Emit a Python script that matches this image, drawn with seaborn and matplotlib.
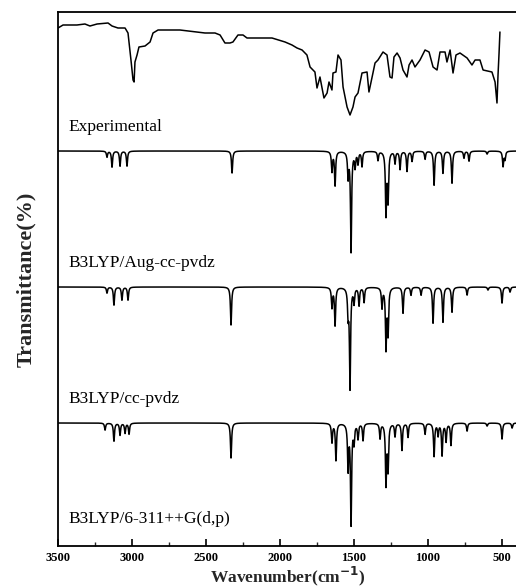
import matplotlib
matplotlib.use("Agg")
import matplotlib.pyplot as plt
import numpy as np
import pandas as pd
import seaborn as sns
from matplotlib.ticker import MultipleLocator

# experimental spectrum (wavenumber, transmittance %)
exp_wn = [3500, 3466, 3372, 3318, 3284, 3236, 3162, 3135, 3095, 3047, 3027,
          3007, 2993, 2986, 2980, 2966, 2953, 2912, 2878, 2858, 2824, 2676,
          2507, 2439, 2405, 2372, 2338, 2318, 2284, 2250, 2223, 2054, 1966,
          1919, 1885, 1851, 1818, 1797, 1764, 1750, 1730, 1716, 1703, 1682,
          1669, 1649, 1642, 1622, 1608, 1588, 1574, 1547, 1527, 1507, 1493,
          1473, 1446, 1412, 1399, 1372, 1358, 1338, 1304, 1277, 1257, 1243,
          1230, 1209, 1189, 1169, 1142, 1128, 1108, 1088, 1054, 1020, 993,
          966, 939, 919, 885, 872, 851, 831, 811, 784, 736, 703, 682, 649,
          628, 568, 547, 534, 527, 520, 514]
exp_t = [95, 98, 98, 99, 97, 99, 100, 97, 95, 95, 90,
         63, 43, 41, 61, 68, 76, 77, 81, 90, 93, 93,
         90, 90, 88, 80, 80, 81, 88, 88, 85, 85, 81,
         78, 75, 73, 68, 56, 51, 35, 46, 35, 25, 30,
         41, 33, 50, 51, 68, 63, 36, 16, 8, 16, 26,
         30, 50, 51, 31, 50, 60, 63, 71, 68, 46, 45,
         66, 70, 65, 53, 46, 58, 63, 56, 63, 73, 71,
         56, 53, 71, 71, 61, 73, 50, 68, 70, 65, 58, 63, 63,
         53, 51, 41, 20, 48, 70, 91]

# calculated spectra: peak position (cm-1) and depth (%)
aug_pos = [3169, 3135, 3081, 3034, 2324, 1649, 1628, 1540, 1520, 1493,
           1473, 1446, 1338, 1284, 1270, 1223, 1189, 1142, 1108, 1020,
           959, 899, 838, 757, 723, 601, 493, 480]
aug_dep = [6, 16, 15, 15, 22, 20, 34, 25, 100, 15,
           12, 15, 9, 62, 48, 12, 18, 20, 10, 8,
           34, 22, 32, 7, 10, 3, 15, 8]

cc_pos = [3169, 3122, 3068, 3027, 2331, 1649, 1628, 1540, 1527, 1500,
          1466, 1432, 1311, 1284, 1270, 1169, 1115, 1047, 966, 899,
          838, 736, 595, 500, 446]
cc_dep = [6, 18, 13, 13, 38, 20, 38, 25, 100, 15,
          18, 15, 20, 60, 45, 26, 8, 8, 36, 35,
          25, 8, 3, 16, 5]

g311_pos = [3182, 3122, 3081, 3047, 3020, 2331, 1649, 1622, 1540, 1520,
            1500, 1473, 1439, 1324, 1284, 1270, 1223, 1176, 1135, 1020,
            959, 932, 905, 878, 845, 736, 601, 500, 432]
g311_dep = [7, 18, 12, 10, 11, 35, 19, 37, 45, 100,
            18, 15, 17, 15, 60, 45, 13, 27, 14, 11,
            33, 12, 32, 18, 22, 8, 3, 16, 5]

labels = ["Experimental", "B3LYP/Aug-cc-pvdz", "B3LYP/cc-pvdz",
          "B3LYP/6-311++G(d,p)"]
offsets = [423, 295, 159, 23]
xticks = [3500, 3000, 2500, 2000, 1500, 1000, 500]


def broaden(pos, dep, grid, hw=4.5):
    # lorentzian broadening of the stick spectrum
    t = np.full_like(grid, 100.0)
    for p, d in zip(pos, dep):
        t -= d / (1.0 + ((grid - p) / hw) ** 2)
    return t


sns.set_theme(style="ticks")
plt.rcParams["font.family"] = ["Liberation Serif", "DejaVu Serif"]

fig = plt.figure(figsize=(5.16, 5.88), dpi=100)
ax = fig.add_axes([58 / 516, 1 - 546 / 588, 460 / 516, 534 / 588])

grid = np.arange(3500, 392, -0.5)
exp_df = pd.DataFrame({"wn": exp_wn, "t": np.array(exp_t) + offsets[0]})
sns.lineplot(data=exp_df, x="wn", y="t", color="black", lw=1.1, sort=False,
             estimator=None, ax=ax)
for (pos, dep), off in zip([(aug_pos, aug_dep), (cc_pos, cc_dep),
                            (g311_pos, g311_dep)], offsets[1:]):
    df = pd.DataFrame({"wn": grid, "t": broaden(pos, dep, grid) + off})
    sns.lineplot(data=df, x="wn", y="t", color="black", lw=1.1, sort=False,
                 estimator=None, ax=ax)

label_y = [419, 283, 147, 27]
for txt, yy in zip(labels, label_y):
    ax.text(3432, yy, txt, fontsize=12.5, va="center", ha="left",
            color="black")

ax.set_xlim(3500, 392)
ax.set_ylim(0, 534)
ax.set_yticks([])
ax.xaxis.set_major_locator(MultipleLocator(500))
ax.xaxis.set_minor_locator(MultipleLocator(250))
ax.set_xticks(xticks)
ax.set_xticklabels([str(v) for v in xticks], fontweight="bold", fontsize=9)
ax.tick_params(axis="x", which="major", direction="in", length=5, width=1.2,
               pad=4, colors="black")
ax.tick_params(axis="x", which="minor", direction="in", length=3, width=1.0)
for s in ["left", "top", "bottom"]:
    ax.spines[s].set_linewidth(1.3)
    ax.spines[s].set_color("black")
ax.spines["right"].set_visible(False)

ax.set_xlabel("Wavenumber(cm$^{\\mathbf{-1}}$)", fontsize=12.5,
              fontweight="bold")
ax.xaxis.set_label_coords(0.5, -0.057)
ax.xaxis.label.set_va("center")
ax.set_ylabel("Transmittance(%)", fontsize=16, fontweight="bold",
              labelpad=16)

fig.savefig("out.png", dpi=100)
